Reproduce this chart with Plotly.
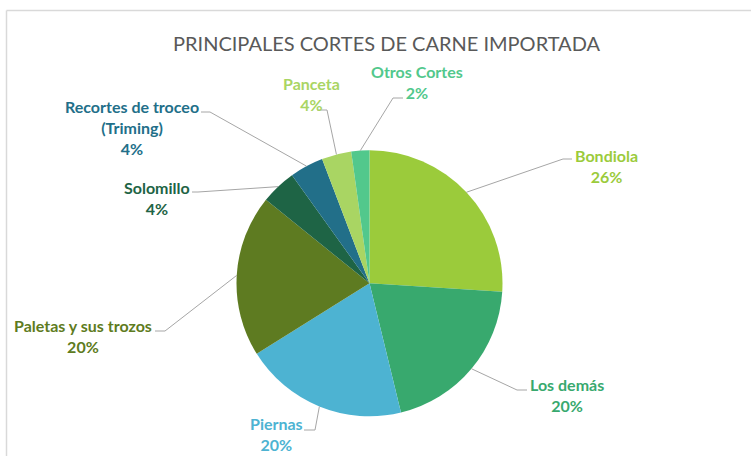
import math
import plotly.graph_objects as go

# ---- data ----
categories = ["Bondiola", "Los demás", "Piernas", "Paletas y sus trozos",
              "Solomillo", "Recortes de troceo (Triming)", "Panceta", "Otros Cortes"]
label_lines = ["Bondiola", "Los demás", "Piernas", "Paletas y sus trozos",
               "Solomillo", "Recortes de troceo<br>(Triming)", "Panceta", "Otros Cortes"]
values = [26.0, 20.2, 19.9, 19.7, 4.3, 4.1, 3.6, 2.2]
colors = ["#9BCB3B", "#38A96E", "#4DB3D2", "#5E7B21",
          "#1E6445", "#226F89", "#A9D563", "#52C88C"]

# ---- layout constants (pixels) ----
W, H = 751, 456
CX, CY, R = 369.5, 283.3, 133.0
label_pos = [(606, 166), (567, 394.5), (276, 434), (83, 336),
             (157, 198), (132, 127.5), (311, 93.5), (416.5, 82)]
leader_pts = [((563, 159), (572, 159)), ((517, 390), (527, 390)),
              ((315, 430), (304, 430)), ((165, 331), (155, 331)),
              ((198, 192), (192, 192)), ((210, 112), (201, 112)),
              ((327, 110), (317, 110)), ((393, 98), (403, 98))]


def px(x):
    return x / W


def py(y):
    return 1 - y / H


fig = go.Figure(go.Pie(
    labels=categories, values=values, sort=False, direction="clockwise",
    rotation=0, marker=dict(colors=colors, line=dict(width=0)),
    textinfo="none", hoverinfo="label+percent", showlegend=False,
    domain=dict(x=[px(CX - R), px(CX + R)], y=[py(CY + R), py(CY - R)]),
))

total = sum(values)
shapes = []
annotations = []
cum = 0.0
for i, v in enumerate(values):
    mid = (cum + v / 2) / total * 2 * math.pi
    cum += v
    sx = CX + R * math.sin(mid)
    sy = CY - R * math.cos(mid)
    (ex, ey), (fx, fy) = leader_pts[i]
    shapes.append(dict(type="path", xref="paper", yref="paper",
                       path=f"M {px(sx)},{py(sy)} L {px(ex)},{py(ey)} L {px(fx)},{py(fy)}",
                       line=dict(color="#A6A6A6", width=1)))
    pct = round(v / total * 100)
    lx, ly = label_pos[i]
    annotations.append(dict(x=px(lx), y=py(ly), xref="paper", yref="paper",
                            text=f"<b>{label_lines[i]}<br>{pct}%</b>",
                            showarrow=False, xanchor="center", yanchor="middle",
                            align="center",
                            font=dict(family="Lato", size=16, color=colors[i])))

# chart frame
shapes.append(dict(type="line", xref="paper", yref="paper",
                   x0=px(6.5), x1=1, y0=py(10.5), y1=py(10.5),
                   line=dict(color="#D9D9D9", width=1.5)))
shapes.append(dict(type="line", xref="paper", yref="paper",
                   x0=px(6.5), x1=px(6.5), y0=py(10.5), y1=0,
                   line=dict(color="#D9D9D9", width=1.5)))

annotations.append(dict(x=px(386), y=py(43), xref="paper", yref="paper",
                        text="PRINCIPALES CORTES DE CARNE IMPORTADA",
                        showarrow=False, xanchor="center", yanchor="middle",
                        font=dict(family="Lato", size=20, color="#595959")))

fig.update_layout(width=W, height=H, margin=dict(l=0, r=0, t=0, b=0),
                  paper_bgcolor="white", plot_bgcolor="white",
                  shapes=shapes, annotations=annotations)

fig.write_html("out.html", config={"displayModeBar": False},
               post_script="document.body.style.margin='0';"
                           "document.body.style.overflow='hidden';")
